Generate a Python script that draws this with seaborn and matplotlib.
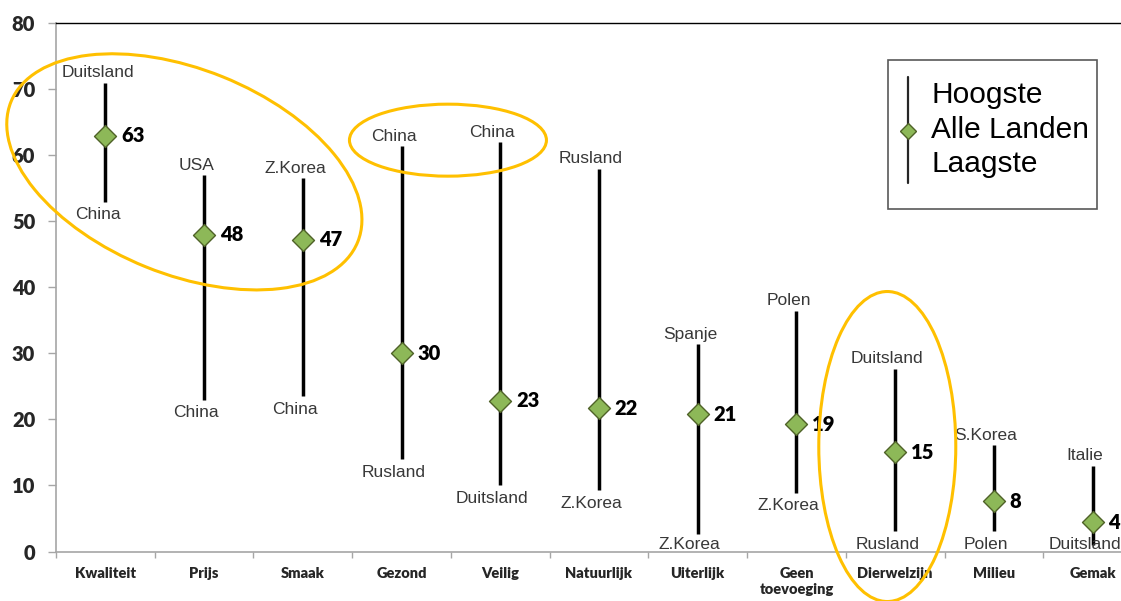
import matplotlib
matplotlib.use("Agg")
import matplotlib.pyplot as plt
import matplotlib.transforms as mtransforms
from matplotlib.patches import Ellipse, Rectangle
from matplotlib.lines import Line2D
import seaborn as sns
import pandas as pd

# Data
categories = ['Kwaliteit', 'Prijs', 'Smaak', 'Gezond', 'Veilig', 'Natuurlijk',
              'Uiterlijk', 'Geen\ntoevoeging', 'Dierwelzijn', 'Milieu', 'Gemak']
all_countries = [63, 48, 47.2, 30, 22.8, 21.7, 20.8, 19.3, 15, 7.6, 4.4]
highest = [71, 57, 56.5, 61.4, 62, 58, 31.4, 36.5, 27.7, 16.1, 13]
lowest = [53, 23, 23.5, 14, 10, 9.3, 2.7, 8.9, 3.1, 3.1, 1]
high_country = ['Duitsland', 'USA', 'Z.Korea', 'China', 'China', 'Rusland',
                'Spanje', 'Polen', 'Duitsland', 'S.Korea', 'Italie']
low_country = ['China', 'China', 'China', 'Rusland', 'Duitsland', 'Z.Korea',
               'Z.Korea', 'Z.Korea', 'Rusland', 'Polen', 'Duitsland']

df = pd.DataFrame({'cat': categories, 'mean': all_countries,
                   'high': highest, 'low': lowest})

sns.set_theme(style='white')
plt.rcParams['font.family'] = ['Liberation Sans', 'DejaVu Sans']

fig = plt.figure(figsize=(11.21, 6.01), dpi=100)
ax = fig.add_axes([56 / 1121, 49.5 / 601, 1086 / 1121, 528.2 / 601])

green = '#8db858'
edge = '#4f6228'
gold = '#ffc000'

# high-low lines
ax.vlines(range(len(df)), df['low'], df['high'], color='black', lw=2.5, zorder=2)

# diamonds for all countries
sns.scatterplot(data=df, x='cat', y='mean', marker='D', s=125, color=green,
                edgecolor=edge, linewidth=1, zorder=3, ax=ax, legend=False)

# labels
for i, row in df.iterrows():
    ax.text(i + 0.16, row['mean'], f"{row['mean']:.0f}", ha='left', va='center',
            fontsize=14.5, fontweight='heavy', family='Lato', color='black')
    ax.text(i - 0.08, row['high'] + 1.5, high_country[i], ha='center', va='center',
            fontsize=12.5, color='#383838')
    ax.text(i - 0.08, max(row['low'] - 2.0, 1.0), low_country[i], ha='center',
            va='center', fontsize=12.5, color='#383838')

ax.set_xlim(-0.5, len(categories) - 0.5)
ax.set_ylim(0, 80)
ax.set_yticks(range(0, 81, 10))
ax.set_xticks(range(len(categories)))
ax.set_xticks([i - 0.5 for i in range(len(categories) + 1)], minor=True)
ax.set_xticklabels(categories, fontsize=10.5, fontweight='heavy', family='Lato',
                   va='top', linespacing=1.25)
ax.set_yticklabels([str(v) for v in range(0, 81, 10)], fontsize=14.5,
                   fontweight='heavy', family='Lato')
ax.set_xlabel('')
ax.set_ylabel('')
ax.tick_params(axis='x', which='major', length=0, pad=11)
ax.tick_params(axis='x', which='minor', length=4, color='#a6a6a6', width=1, bottom=True)
ax.tick_params(axis='y', length=6, color='#a6a6a6', width=1, pad=9, left=True)

for s in ['left', 'bottom']:
    ax.spines[s].set_color('#a6a6a6')
    ax.spines[s].set_linewidth(1.2)
ax.spines['top'].set_color('black')
ax.spines['top'].set_linewidth(1)
ax.spines['right'].set_visible(False)

# highlight ellipses: centre in data units, size in pixels
ellipses = [((0.8, 57.5), 374, 205, -22),
            ((3.47, 62.3), 197, 72, 0),
            ((7.92, 15.9), 137, 310, 0)]
for (cx, cy), w, h, ang in ellipses:
    tr = mtransforms.Affine2D() + mtransforms.ScaledTranslation(cx, cy, ax.transData)
    ax.add_patch(Ellipse((0, 0), w, h, angle=ang, transform=tr, fill=False,
                         edgecolor=gold, lw=2.2, clip_on=False, zorder=4))

# legend box drawn by hand (image pixel coordinates, y down)
px = mtransforms.Affine2D().scale(1, -1).translate(0, 601)
fig.patches.append(Rectangle((888, 60), 209, 149, transform=px, fill=False,
                             edgecolor='#595959', lw=1.2, figure=fig))
fig.lines.append(Line2D([908, 908], [77, 183], transform=px, color='#262626',
                        lw=1.6, figure=fig))
fig.lines.append(Line2D([908], [131], transform=px, marker='D', markersize=8,
                        markerfacecolor=green, markeredgecolor=edge, lw=0,
                        figure=fig))
for txt, yb in [('Hoogste', 103), ('Alle Landen', 138), ('Laagste', 172)]:
    fig.text(931, yb, txt, transform=px, fontsize=21.5, color='black',
             ha='left', va='baseline')

fig.savefig('out.png', dpi=100)
